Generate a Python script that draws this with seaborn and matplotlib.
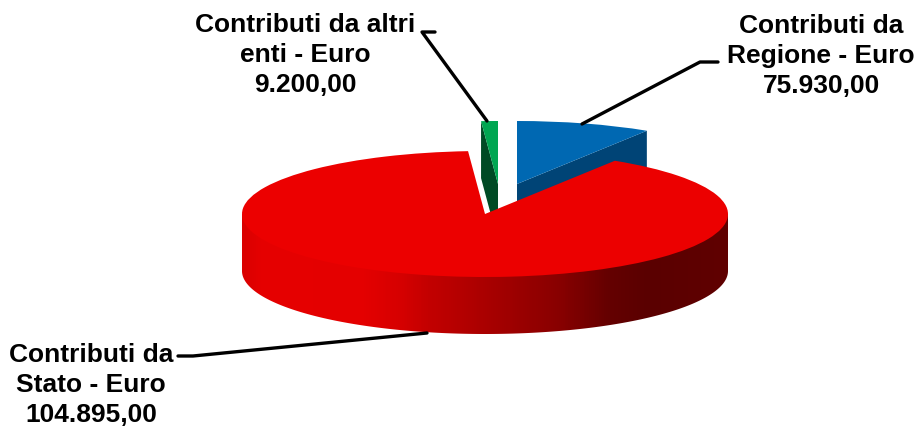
import numpy as np
import matplotlib
matplotlib.use("Agg")
import matplotlib.pyplot as plt
from matplotlib.colors import LinearSegmentedColormap, to_rgb
from matplotlib.patches import Polygon
import seaborn as sns

# ---- data ----
label_names = ["Contributi da\nRegione - Euro", "Contributi da\nStato - Euro", "Contributi da altri\nenti - Euro"]
label_values = [75930.00, 104895.00, 9200.00]
slice_degrees = [32.3, 323.7, 4.0]   # slice sweep

# ---- style ----
W, H = 918, 428
TILT = 63 / 243
RX, DEPTH_PX = 243, 57
top_colors = ["#0068B2", "#EC0000", "#00A651"]
cut_colors = ["#004476", "#EC0000", "#004A24"]
centers_px = [(517, 184), (485, 214), (498, 184)]
text_pos = [(821, 56), (91, 385), (305, 55)]
leaders_px = [
    [(718, 62), (700, 62), (582, 124)],
    [(178, 356), (193, 356), (427, 333)],
    [(435, 32), (422, 32), (487, 121)],
]
grad_stops = [(242, "#DA0000"), (262, "#E60000"), (363, "#E40000"), (400, "#D60000"),
              (430, "#C20000"), (480, "#AC0000"), (520, "#9A0000"), (560, "#880000"),
              (610, "#640000"), (650, "#5A0000"), (728, "#600000")]

sns.set_theme(style="white")
plt.rcParams["font.family"] = ["Liberation Sans", "DejaVu Sans"]


def Y(py):
    return (H - py) / TILT


def euro(v):
    return f"{v:,.2f}".replace(",", "#").replace(".", ",").replace("#", ".")


fig = plt.figure(figsize=(W / 100, H / 100), dpi=100, facecolor="white")
ax = fig.add_axes([0, 0, 1, 1])

depth = DEPTH_PX / TILT
centers = [(x, Y(y)) for x, y in centers_px]

wedges, _ = ax.pie(slice_degrees, radius=RX, center=centers[1], startangle=90,
                   counterclock=False, colors=top_colors, normalize=True,
                   wedgeprops=dict(linewidth=0))
for w, c, z in zip(wedges, centers, [2, 6, 2]):
    w.set_center(c)
    w.set_zorder(z)

# cut faces of the two detached slices, from the slice sweep
edges = np.cumsum([0] + slice_degrees)
for i, ang, z in [(0, edges[1], 1), (2, edges[2], 1)]:
    cx, cy = centers[i]
    rim = (cx + RX * np.sin(np.radians(ang)), cy + RX * np.cos(np.radians(ang)))
    ax.add_patch(Polygon([(cx, cy), rim, (rim[0], rim[1] - depth), (cx, cy - depth)],
                         closed=True, fc=cut_colors[i], ec="none", zorder=z))

# outer wall of the main slice with a horizontal gradient; it runs up under the top face
cx, cy = centers[1]
t = np.linspace(np.pi, 2 * np.pi, 300)
xs, ys = cx + RX * np.cos(t), cy + RX * np.sin(t)
wall = Polygon(np.c_[np.r_[xs, xs[-1], xs[0]], np.r_[ys - depth, cy, cy]], closed=True,
               fc="none", ec="none", transform=ax.transData)
ax.add_patch(wall)
x0, x1 = cx - RX, cx + RX
cmap = LinearSegmentedColormap.from_list(
    "wall", [((x - x0) / (x1 - x0), to_rgb(c)) for x, c in grad_stops])
im = ax.imshow(np.linspace(0, 1, 486)[None, :], cmap=cmap, aspect="auto", vmin=0, vmax=1,
               extent=(x0, x1, cy - RX - depth, cy), zorder=5, interpolation="bilinear")
im.set_clip_path(wall)

# leaders and labels
for pts in leaders_px:
    ax.plot([p[0] for p in pts], [Y(p[1]) for p in pts], color="black", lw=2.4,
            solid_joinstyle="round", zorder=8)
for name, val, (tx, ty) in zip(label_names, label_values, text_pos):
    ax.text(tx, Y(ty), f"{name}\n{euro(val)}", ha="center", va="center", ma="center",
            fontsize=19, fontweight="bold", color="black", linespacing=1.3, zorder=9)

ax.set_aspect("auto")
ax.set_xlim(0, W)
ax.set_ylim(0, H / TILT)
ax.axis("off")
fig.savefig("out.png", dpi=100)
